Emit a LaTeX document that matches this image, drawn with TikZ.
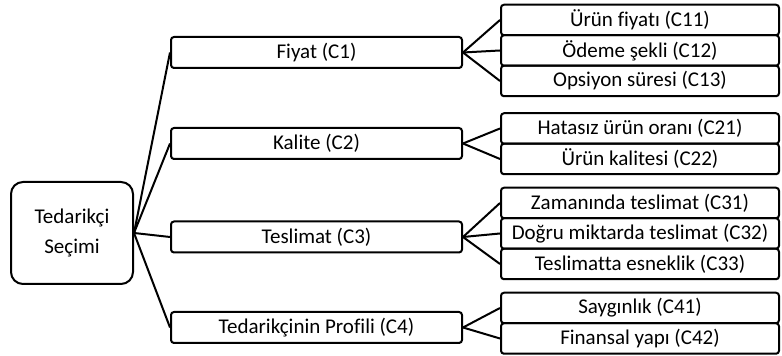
\documentclass[tikz,border=0pt]{standalone}
\usepackage{fontspec}
\setmainfont{Carlito}[Ligatures=NoCommon]
\begin{document}
\begin{tikzpicture}[x=0.5pt,y=-0.5pt,
  every node/.style={font=\fontsize{10.5}{15}\selectfont, inner sep=0pt},
  rootbox/.style={draw, line width=1pt, rounded corners=6pt, minimum width=61pt, minimum height=51pt, align=center},
  lvlbox/.style={draw, line width=1pt, rounded corners=1.5pt, minimum width=145.5pt, minimum height=15.5pt},
  leafbox/.style={draw, line width=1pt, rounded corners=1.5pt, minimum width=139pt, minimum height=15.25pt},
  conn/.style={line width=1pt}]
\useasboundingbox (0,0) rectangle (782,356);
\node[rootbox] (root) at (72,233) {Tedarikçi\\Seçimi};
\node[lvlbox] (c1) at (316.5,52.5) {Fiyat (C1)};
\node[lvlbox] (c2) at (316.5,143.5) {Kalite (C2)};
\node[lvlbox] (c3) at (316.5,237) {Teslimat (C3)};
\node[lvlbox] (c4) at (316.5,327.5) {Tedarikçinin Profili (C4)};
\node[leafbox] (c11) at (640,20) {Ürün fiyatı (C11)};
\node[leafbox] (c12) at (640,50.5) {Ödeme şekli (C12)};
\node[leafbox] (c13) at (640,81) {Opsiyon süresi (C13)};
\node[leafbox] (c21) at (640,128.5) {Hatasız ürün oranı (C21)};
\node[leafbox] (c22) at (640,159) {Ürün kalitesi (C22)};
\node[leafbox] (c31) at (640,203) {Zamanında teslimat (C31)};
\node[leafbox] (c32) at (640,233.5) {Doğru miktarda teslimat (C32)};
\node[leafbox] (c33) at (640,264) {Teslimatta esneklik (C33)};
\node[leafbox] (c41) at (640,308) {Saygınlık (C41)};
\node[leafbox] (c42) at (640,338.5) {Finansal yapı (C42)};
\foreach \t in {c1,c2,c3,c4} \draw[conn] (root.east) -- (\t.west);
\foreach \t in {c11,c12,c13} \draw[conn] (c1.east) -- (\t.west);
\foreach \t in {c21,c22} \draw[conn] (c2.east) -- (\t.west);
\foreach \t in {c31,c32,c33} \draw[conn] (c3.east) -- (\t.west);
\foreach \t in {c41,c42} \draw[conn] (c4.east) -- (\t.west);
\end{tikzpicture}
\end{document}
